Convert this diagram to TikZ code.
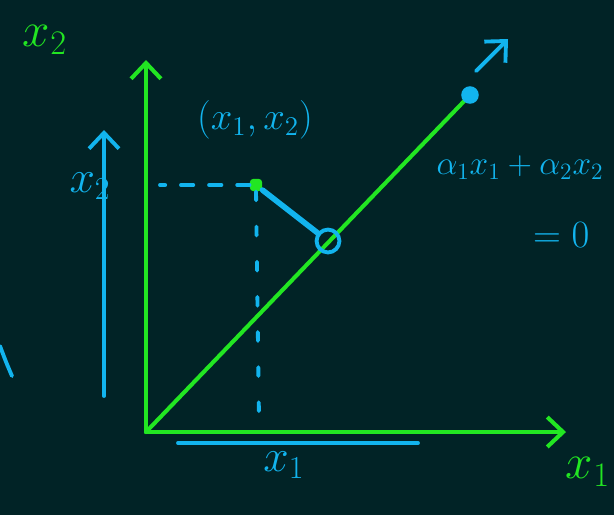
\documentclass[tikz,border=0pt]{standalone}
\usepackage{fix-cm}
\usepackage{xcolor}
\usepackage{tikz}
\usetikzlibrary{positioning, arrows.meta, calc}
\definecolor{board}{HTML}{012326}
\definecolor{chalkG}{HTML}{22E622}
\definecolor{chalkB}{HTML}{12B4EE}

\begin{document}
\begin{tikzpicture}[x=0.02cm, y=-0.02cm, ax/.style={draw=chalkG, line width=2.3pt, line cap=round}, bl/.style={draw=chalkB, line width=2.2pt, line cap=round}, barb/.style={-{Straight Barb[length=9pt, width=17pt]}}, gtxt/.style={text=chalkG, inner sep=0pt, font=\fontsize{28}{30}\selectfont}, btxt/.style={text=chalkB, inner sep=0pt, font=\fontsize{22}{24}\selectfont}]
\useasboundingbox (0,0) rectangle (614,515);
\fill[board] (0,0) rectangle (614,515);
% axes and the line
\coordinate (o) at (146,432);
\coordinate (x2end) at (146,60);
\coordinate (x1end) at (566,432);
\coordinate (lend) at (470,95);
\draw[ax, barb] (o) -- (x2end);
\draw[ax, barb] (o) -- (x1end);
\draw[ax] (o) -- (lend);
\node[gtxt] (x2lab) at (45,40) {$x_2$};
\node[gtxt] (x1lab) at (588,472) {$x_1$};
% normal vector
\node[circle, fill=chalkB, inner sep=0pt, minimum size=10pt] (w) at (lend) {};
\coordinate (wtail) at (476,71);
\coordinate (wtip) at (508,39);
\draw[bl, barb] (wtail) -- (wtip);
\node[btxt, font=\fontsize{19}{21}\selectfont] (eq) at (520,168) {$\alpha_1x_1+\alpha_2x_2$};
\node[btxt, below=24pt of eq.south east, anchor=north east, xshift=-8pt] (eqz) {$=0$};
% point and its projection
\node[rectangle, rounded corners=2pt, fill=chalkG, minimum size=7pt, inner sep=0pt] (p) at (256,185) {};
\node[circle, draw=chalkB, line width=2.2pt, minimum size=13pt, inner sep=0pt] (proj) at (328,241) {};
\draw[bl, line width=3.2pt] (p) -- (proj);
\node[btxt] (plab) at (255,120) {$(x_1,x_2)$};
\coordinate (dl) at (160,185);
\coordinate (dd) at (259,420);
\draw[bl, dash pattern=on 7pt off 9pt] (p.west) -- (dl);
\draw[bl, dash pattern=on 5pt off 15pt] (p.south) -- (dd);
% coordinate lengths
\coordinate (vb) at (104,396);
\coordinate (vt) at (104,130);
\draw[bl, barb] (vb) -- (vt);
\node[btxt, font=\fontsize{26}{28}\selectfont] (x2seg) at (90,186) {$x_2$};
\coordinate (hb1) at (178,443);
\coordinate (hb2) at (418,443);
\draw[bl] (hb1) -- (hb2);
\coordinate (hm) at ($(hb1)!0.5!(hb2)$);
\node[btxt, font=\fontsize{26}{28}\selectfont, below=5pt of hm, xshift=-8pt] (x1seg) {$x_1$};
\draw[bl] (0,346) .. controls (6,362) .. (12,376);
\end{tikzpicture}
\end{document}
